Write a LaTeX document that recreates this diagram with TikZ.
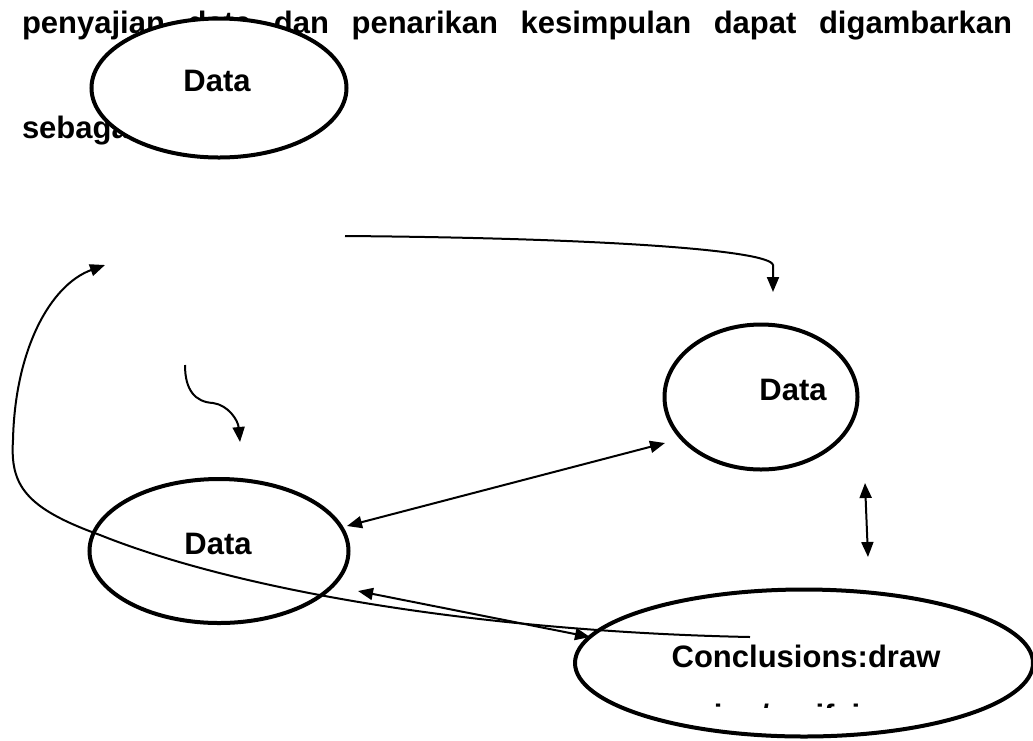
\documentclass[tikz,border=0pt]{standalone}
\usepackage{fontspec}
\setmainfont{Liberation Sans}
\usetikzlibrary{shapes.geometric,arrows.meta}
\tikzset{
  ell/.style={ellipse,draw=black,line width=4pt,fill=white,inner sep=0pt,outer sep=0pt},
  txt/.style={inner sep=0pt,outer sep=0pt,anchor=base,font=\fontsize{31}{37}\selectfont\bfseries},
  conn/.style={line width=2pt,-{Triangle[length=15pt,width=12pt]}},
  dconn/.style={line width=2pt,{Triangle[length=15pt,width=12pt]}-{Triangle[length=15pt,width=12pt]}}
}
\begin{document}
\begin{tikzpicture}[x=1pt,y=-1pt]
\useasboundingbox (0,0) rectangle (1033,740);
\clip (0,0) rectangle (1033,740);
% header text
\node[txt,anchor=base west] (h1) at (22,33) {\makebox[990pt][s]{penyajian data dan penarikan kesimpulan dapat digambarkan}};
\node[txt,anchor=base west] (h2) at (22,138) {sebagai};
% ellipses
\node[ell,minimum width=255pt,minimum height=139pt] (e1) at (219,88) {};
\node[ell,minimum width=193pt,minimum height=145pt] (e2) at (761,397) {};
\node[ell,minimum width=259pt,minimum height=144pt] (e3) at (219,551) {};
\node[ell,minimum width=458pt,minimum height=147pt] (e4) at (804,663) {};
% texts
\node[txt] (t1) at (217,91) {Data};
\node[txt] (t2) at (793,400) {Data};
\node[txt] (t3) at (218,554) {Data};
\node[txt] (t4) at (806,667) {Conclusions:draw};
\begin{scope}
\clip (600,600) rectangle (1000,707);
\node[txt] (t5) at (806,726) {ing/verifying};
\end{scope}
% connector end points
\coordinate (a1s) at (345,236);
\coordinate (a1k) at (773,265);
\coordinate (a1e) at (773,292);
\coordinate (a2s) at (185,365);
\coordinate (a2m) at (213,403);
\coordinate (a2e) at (240,442);
\coordinate (a3l) at (347,526);
\coordinate (a3r) at (665,443);
\coordinate (a4t) at (865,483);
\coordinate (a4b) at (868,557);
\coordinate (a5l) at (358,591);
\coordinate (a5r) at (590,637);
\coordinate (a6s) at (750,637);
\coordinate (a6m) at (100,535);
\coordinate (a6n) at (13,440);
\coordinate (a6e) at (105,265);
% connectors
\draw[conn] (a1s) .. controls (600,238) and (770,250) .. (a1k) -- (a1e);
\draw[conn] (a2s) .. controls (185,390) and (195,402) .. (a2m) .. controls (228,405) and (238,420) .. (a2e);
\draw[dconn] (a3l) -- (a3r);
\draw[dconn] (a4t) -- (a4b);
\draw[dconn] (a5l) -- (a5r);
\draw[conn] (a6s) .. controls (500,632) and (250,595) .. (a6m) .. controls (25,508) and (10,485) .. (a6n) .. controls (15,350) and (50,285) .. (a6e);
\end{tikzpicture}
\end{document}
